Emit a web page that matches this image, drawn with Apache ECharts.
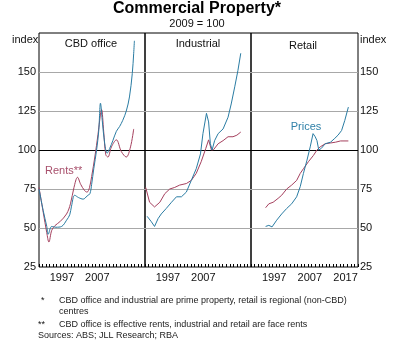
<!DOCTYPE html>
<html>
<head>
<meta charset="utf-8">
<script src="https://cdn.jsdelivr.net/npm/echarts@6/dist/echarts.min.js"></script>
<style>
html, body { margin: 0; padding: 0; background: #fff; }
#chart { width: 397px; height: 347px; }
</style>
</head>
<body>
<div id="chart"></div>
<script>
// Year bands along each panel's x axis (one band per calendar year)
const yearCategories = ['1991','1992','1993','1994','1995','1996','1997','1998','1999','2000',
  '2001','2002','2003','2004','2005','2006','2007','2008','2009','2010',
  '2011','2012','2013','2014','2015','2016','2017','2018','2019','2020'];
const yearLabelsLeft = ['1997', '2007'];
const yearLabelsMiddle = ['1997', '2007'];
const yearLabelsRight = ['1997', '2007', '2017'];
const indexTicks = [25, 50, 75, 100, 125, 150, 175];

const panelTitles = ['CBD office', 'Industrial', 'Retail'];

// Index values, 2009 = 100, as [year, index]
const cbdPrices = [
  [1991.0, 75], [1992.2, 61], [1993.2, 51], [1993.6, 46], [1994.6, 51], [1995.8, 50.5],
  [1997.4, 51], [1998.8, 55], [1999.7, 58.5], [2000.2, 64], [2001.1, 71], [2002.2, 69.5],
  [2003.5, 68.5], [2004.6, 70.5], [2005.4, 72], [2005.9, 78], [2006.5, 88], [2007.3, 100],
  [2007.9, 112], [2008.4, 130], [2008.9, 119], [2009.6, 104], [2010.3, 98], [2011.0, 101],
  [2011.9, 106], [2012.9, 112], [2013.8, 115], [2014.7, 119], [2015.7, 125], [2016.6, 134],
  [2017.4, 149], [2017.8, 162], [2018.0, 170]
];
const cbdRents = [
  [1991.0, 76], [1992.2, 60], [1993.2, 47], [1993.8, 41], [1994.6, 48.5], [1995.5, 51.5],
  [1996.9, 54], [1998.8, 59], [1999.9, 65.5], [2000.9, 76], [2001.9, 82.5], [2002.8, 78],
  [2003.9, 74], [2004.6, 73], [2005.3, 76], [2005.9, 83], [2006.8, 95.5], [2007.7, 110],
  [2008.4, 123], [2008.7, 126], [2009.3, 112], [2009.9, 97], [2010.5, 95.5], [2011.5, 102],
  [2012.9, 106.5], [2014.3, 99], [2015.7, 95.5], [2016.9, 102], [2017.8, 113.5]
];
const industrialPrices = [
  [1991.6, 57.5], [1992.8, 54], [1993.7, 51], [1994.7, 56], [1995.6, 59], [1997.0, 62.5],
  [1998.5, 66.5], [1999.9, 70], [2001.3, 70], [2002.7, 73], [2004.1, 80.5], [2005.5, 88],
  [2006.7, 97.5], [2007.4, 110.5], [2008.4, 123.5], [2009.0, 118], [2009.5, 104], [2010.0, 100],
  [2010.7, 106], [2011.7, 110.5], [2013.1, 113.5], [2014.5, 121], [2015.4, 129.5],
  [2016.4, 140.5], [2017.3, 151], [2018.1, 162]
];
const industrialRents = [
  [1991.2, 76], [1992.3, 66.5], [1993.7, 63.5], [1995.2, 66.5], [1996.6, 72], [1998.0, 75],
  [1999.4, 76], [2000.8, 77.5], [2002.7, 78.5], [2004.1, 80.5], [2005.5, 85], [2006.9, 92.5],
  [2008.2, 101], [2009.0, 106.5], [2009.8, 100], [2010.4, 100.2], [2011.7, 104], [2013.1, 106],
  [2014.5, 108.5], [2015.9, 108.5], [2017.0, 109.5], [2018.1, 111.5]
];
const retailPrices = [
  [1995.1, 51], [1996.0, 51.7], [1996.9, 50.7], [1998.2, 55], [1999.6, 59], [2001.0, 62.5],
  [2002.4, 65.5], [2003.8, 70], [2004.8, 76.5], [2005.7, 85], [2006.7, 93.5], [2007.6, 102],
  [2008.4, 110.5], [2009.0, 108.5], [2009.5, 106], [2010.0, 100], [2010.7, 101], [2011.8, 104],
  [2013.3, 105], [2014.5, 107.5], [2015.4, 109.5], [2016.4, 112.5], [2017.3, 119], [2018.3, 127.5]
];
const retailRents = [
  [1995.1, 63], [1996.0, 65.5], [1997.2, 66.5], [1998.6, 69], [1999.6, 71], [2001.0, 75],
  [2002.4, 77.5], [2003.8, 80.5], [2004.8, 85], [2005.7, 88], [2007.1, 92.5], [2008.5, 96.5],
  [2009.5, 100], [2010.4, 102], [2011.8, 104], [2013.3, 104.5], [2014.7, 105], [2016.1, 105.8],
  [2018.3, 105.8]
];

const PRICE_COLOR = '#2a7ca3';
const RENT_COLOR = '#a5405e';
const FONT = '"Liberation Sans", Arial, sans-serif';

const panels = [
  { left: 39, width: 106, labels: yearLabelsLeft, prices: cbdPrices, rents: cbdRents, smooth: 0.35, yPos: 'left', showY: true },
  { left: 145, width: 106, labels: yearLabelsMiddle, prices: industrialPrices, rents: industrialRents, smooth: false, yPos: 'left', showY: false },
  { left: 251, width: 107, labels: yearLabelsRight, prices: retailPrices, rents: retailRents, smooth: false, yPos: 'right', showY: true }
];

const grid = [], xAxis = [], yAxis = [], series = [];
panels.forEach((p, i) => {
  grid.push({
    left: p.left, width: p.width, top: 33, height: 234,
    show: true, borderColor: '#000', borderWidth: 1, backgroundColor: 'transparent'
  });
  // Category axis: year bands, inside ticks, labels centred in the band
  xAxis.push({
    type: 'category', gridIndex: i, data: yearCategories, boundaryGap: true,
    axisLine: { show: false },
    axisTick: { show: true, inside: true, length: 3, interval: 0, alignWithLabel: false,
      lineStyle: { color: '#000', width: 1 } },
    axisLabel: {
      interval: 0, margin: 5, color: '#111', fontFamily: FONT, fontSize: 11,
      formatter: v => (p.labels.indexOf(v) >= 0 ? v : '')
    },
    splitLine: { show: false }
  });
  // Continuous year axis that positions the data
  xAxis.push({
    type: 'value', gridIndex: i, min: 1991, max: 2021, show: false
  });
  yAxis.push({
    type: 'value', gridIndex: i, min: indexTicks[0], max: indexTicks[indexTicks.length - 1],
    interval: 25, position: p.yPos,
    axisLine: { show: false }, axisTick: { show: false },
    axisLabel: {
      show: p.showY, color: '#111', fontFamily: FONT, fontSize: 11,
      margin: p.yPos === 'left' ? 3 : 2,
      formatter: v => (v === 175 ? '' : String(v))
    },
    splitLine: { show: true, showMinLine: false, showMaxLine: false,
      lineStyle: { color: '#a8a8a8', width: 1 } }
  });
  series.push({
    type: 'line', xAxisIndex: 2 * i + 1, yAxisIndex: i, data: p.rents,
    smooth: p.smooth, showSymbol: false, symbol: 'none',
    lineStyle: { color: RENT_COLOR, width: 1 }, z: 3
  });
  series.push({
    type: 'line', xAxisIndex: 2 * i + 1, yAxisIndex: i, data: p.prices,
    smooth: p.smooth, showSymbol: false, symbol: 'none',
    lineStyle: { color: PRICE_COLOR, width: 1 }, z: 4,
    markLine: {
      silent: true, symbol: 'none', label: { show: false },
      lineStyle: { color: '#000', type: 'solid', width: 1 },
      data: [{ yAxis: 100 }], z: 2
    }
  });
});

function txt(x, y, text, opts) {
  return {
    type: 'text', x: x, y: y, silent: true,
    style: Object.assign({
      text: text, fill: '#111', font: '11px ' + FONT,
      align: 'left', verticalAlign: 'middle', textAlign: 'left', textVerticalAlign: 'middle'
    }, opts || {})
  };
}
function centered(x, y, text, font, fill) {
  return txt(x, y, text, { font: font, fill: fill || '#111', align: 'center', textAlign: 'center' });
}

const graphic = [
  centered(197, 8.5, 'Commercial Property*', 'bold 16px ' + FONT, '#000'),
  centered(197, 24, '2009 = 100', '11px ' + FONT),
  txt(12, 40, 'index'),
  txt(360, 40, 'index'),
  centered(91, 44, panelTitles[0], '11px ' + FONT),
  centered(198, 44, panelTitles[1], '11px ' + FONT),
  centered(303, 46, panelTitles[2], '11px ' + FONT),
  txt(45, 171, 'Rents**', { fill: '#a8506c', font: '11px ' + FONT }),
  centered(306, 127, 'Prices', '11px ' + FONT, '#2f80a8'),
  txt(41, 301, '*', { font: '9px ' + FONT }),
  txt(59, 301, 'CBD office and industrial are prime property, retail is regional (non-CBD)', { font: '9px ' + FONT, fill: '#222' }),
  txt(59, 312, 'centres', { font: '9px ' + FONT, fill: '#222' }),
  txt(38, 325, '**', { font: '9px ' + FONT }),
  txt(59, 325, 'CBD office is effective rents, industrial and retail are face rents', { font: '9px ' + FONT, fill: '#222' }),
  txt(38, 336, 'Sources: ABS; JLL Research; RBA', { font: '9px ' + FONT, fill: '#222' })
];

const chart = echarts.init(document.getElementById('chart'), null, { renderer: 'canvas' });
chart.setOption({
  animation: false,
  backgroundColor: '#fff',
  grid: grid,
  xAxis: xAxis,
  yAxis: yAxis,
  series: series,
  graphic: graphic
});
</script>
</body>
</html>
